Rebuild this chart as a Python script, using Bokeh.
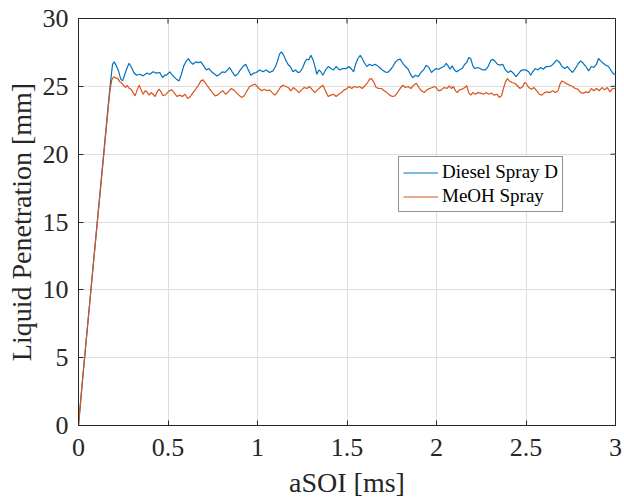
import math
from bokeh.plotting import figure
from bokeh.models import Range1d, FixedTicker, Legend, LegendItem
from bokeh.embed import file_html
from bokeh.resources import INLINE

# ---- data ----
series_names = ["Diesel Spray D", "MeOH Spray"]
x_ticks = [0, 0.5, 1, 1.5, 2, 2.5, 3]
x_tick_labels = ["0", "0.5", "1", "1.5", "2", "2.5", "3"]
y_ticks = [0, 5, 10, 15, 20, 25, 30]
y_tick_labels = ["0", "5", "10", "15", "20", "25", "30"]

t_diesel = [0.0, 0.02, 0.08, 0.166, 0.178, 0.190, 0.199, 0.212, 0.225, 0.236, 0.246, 0.259, 0.272, 0.283,
            0.296, 0.309, 0.324, 0.342, 0.361, 0.380, 0.398, 0.417, 0.435, 0.454, 0.469, 0.482,
            0.491, 0.510, 0.528, 0.547, 0.562, 0.575, 0.588, 0.603, 0.614, 0.625, 0.640, 0.655, 0.670,
            0.684, 0.699, 0.714, 0.729, 0.744, 0.761, 0.774, 0.789, 0.803, 0.818, 0.833, 0.844, 0.859,
            0.874, 0.889, 0.904, 0.919, 0.934, 0.949, 0.963, 0.978,
            0.993, 1.012, 1.030, 1.049, 1.067, 1.086, 1.101, 1.112, 1.123, 1.134, 1.146, 1.157, 1.170,
            1.183, 1.198, 1.212, 1.226, 1.239, 1.253, 1.265, 1.276, 1.287, 1.298, 1.309, 1.320, 1.332,
            1.343, 1.354, 1.365, 1.380, 1.395, 1.410, 1.425, 1.439, 1.458, 1.477,
            1.496, 1.511, 1.526, 1.537, 1.548, 1.561, 1.574, 1.585, 1.598, 1.611, 1.626, 1.641, 1.656,
            1.671, 1.682, 1.697, 1.712, 1.727, 1.742, 1.756, 1.771, 1.784, 1.797, 1.812, 1.827, 1.842,
            1.857, 1.868, 1.883, 1.898, 1.913, 1.928, 1.942, 1.957, 1.972, 1.987,
            1.998, 2.013, 2.028, 2.043, 2.054, 2.065, 2.076, 2.087, 2.100, 2.113, 2.128, 2.143, 2.158,
            2.169, 2.180, 2.191, 2.203, 2.214, 2.229, 2.244, 2.258, 2.273, 2.288, 2.303, 2.314, 2.325,
            2.340, 2.355, 2.370, 2.385, 2.400, 2.415, 2.430, 2.444, 2.456, 2.470, 2.485,
            2.500, 2.515, 2.526, 2.537, 2.552, 2.567, 2.582, 2.597, 2.612, 2.626, 2.641, 2.656, 2.671,
            2.686, 2.701, 2.716, 2.731, 2.746, 2.760, 2.775, 2.790, 2.805, 2.820, 2.835, 2.850, 2.865,
            2.879, 2.894, 2.905, 2.917, 2.932, 2.946, 2.961, 2.976, 2.991, 3.0]
l_diesel = [0.0, 3.0, 11.5, 23.6, 25.2, 26.6, 26.8, 26.51, 26.07, 25.53, 25.40, 25.89, 26.39, 26.70,
            26.39, 26.02, 25.82, 25.89, 25.77, 25.97, 25.89, 26.07, 25.97, 26.02, 25.65, 25.82,
            25.82, 26.07, 25.77, 25.53, 25.40, 25.89, 26.51, 26.88, 27.05, 26.80, 26.63, 26.80, 26.75,
            26.80, 26.51, 26.21, 26.31, 26.07, 25.89, 25.77, 25.89, 26.07, 26.02, 26.21, 26.39, 26.07,
            25.77, 25.89, 26.21, 26.46, 26.63, 26.21, 25.82, 25.97,
            26.02, 26.21, 26.07, 26.21, 26.02, 26.14, 26.46, 26.88, 27.37, 27.54, 27.29, 26.95, 26.63,
            26.46, 26.07, 26.21, 26.02, 26.07, 26.39, 26.80, 27.00, 26.95, 27.29, 27.00, 26.51, 25.89,
            26.21, 26.07, 25.82, 26.21, 26.46, 26.31, 26.21, 26.46, 26.21, 26.31,
            26.31, 26.46, 26.26, 26.07, 26.63, 27.05, 27.29, 27.05, 26.70, 26.46, 26.63, 26.51, 26.63,
            26.51, 26.39, 26.21, 26.07, 26.02, 26.21, 26.46, 26.80, 26.95, 27.00, 26.70, 26.46, 26.26,
            25.82, 25.65, 25.82, 25.72, 26.02, 26.21, 26.56, 26.39, 26.02, 26.21,
            26.31, 26.26, 26.39, 26.46, 26.70, 26.51, 26.26, 26.51, 26.21, 26.07, 26.21, 26.31, 26.63,
            26.75, 27.12, 27.05, 26.51, 26.31, 26.39, 26.31, 26.21, 26.21, 26.46, 26.88, 27.00, 26.88,
            26.63, 26.56, 26.63, 26.21, 26.02, 26.14, 25.97, 25.72, 25.89, 26.14, 26.21,
            26.21, 26.07, 25.82, 26.07, 26.31, 26.21, 26.39, 26.26, 26.46, 26.46, 26.51, 26.70, 26.95,
            26.80, 26.46, 26.31, 26.46, 26.21, 26.02, 26.31, 26.63, 26.88, 26.70, 26.46, 26.14, 26.46,
            26.39, 26.63, 27.05, 26.88, 26.70, 26.56, 26.46, 26.14, 25.89, 25.89]

t_meoh = [0.0, 0.02, 0.08, 0.166, 0.175, 0.186, 0.197, 0.208, 0.220, 0.231, 0.242, 0.253, 0.264, 0.272,
          0.283, 0.294, 0.305, 0.316, 0.328, 0.339, 0.350, 0.361, 0.372, 0.383, 0.395, 0.406, 0.417,
          0.428, 0.439, 0.450, 0.461, 0.473, 0.488,
          0.506, 0.521, 0.536, 0.551, 0.565, 0.580, 0.595, 0.610, 0.625, 0.640, 0.655, 0.670, 0.684,
          0.696, 0.707, 0.718, 0.733, 0.748, 0.763, 0.777, 0.792, 0.807, 0.822, 0.837, 0.852, 0.867,
          0.882, 0.896, 0.911, 0.926, 0.941, 0.956, 0.971, 0.986,
          1.008, 1.023, 1.038, 1.053, 1.067, 1.082, 1.097, 1.112, 1.127, 1.142, 1.157, 1.172, 1.186,
          1.201, 1.216, 1.231, 1.246, 1.261, 1.276, 1.291, 1.306, 1.320, 1.335, 1.350, 1.365, 1.380,
          1.395, 1.410, 1.425, 1.439, 1.454, 1.469, 1.484,
          1.496, 1.511, 1.526, 1.541, 1.556, 1.570, 1.585, 1.600, 1.615, 1.626, 1.637, 1.649, 1.663,
          1.678, 1.693, 1.708, 1.723, 1.738, 1.753, 1.768, 1.782, 1.797, 1.812, 1.827, 1.842, 1.857,
          1.872, 1.887, 1.902, 1.916, 1.931, 1.946, 1.961, 1.976, 1.991,
          2.013, 2.028, 2.043, 2.058, 2.072, 2.084, 2.095, 2.106, 2.117, 2.128, 2.143, 2.158, 2.169,
          2.180, 2.191, 2.203, 2.217, 2.232, 2.247, 2.262, 2.277, 2.292, 2.307, 2.322, 2.337, 2.351,
          2.363, 2.374, 2.385, 2.396, 2.407, 2.422, 2.437, 2.452, 2.467, 2.482, 2.493,
          2.500, 2.515, 2.530, 2.545, 2.560, 2.574, 2.589, 2.604, 2.619, 2.634, 2.649, 2.664, 2.679,
          2.690, 2.701, 2.716, 2.731, 2.746, 2.760, 2.775, 2.790, 2.805, 2.820, 2.835, 2.850, 2.865,
          2.879, 2.894, 2.909, 2.924, 2.939, 2.954, 2.969, 2.984, 3.0]
l_meoh = [0.0, 3.0, 11.5, 23.4, 24.6, 25.5, 25.70, 25.62, 25.57, 25.33, 25.23, 25.04, 24.91, 25.08,
          24.84, 24.79, 24.54, 24.30, 24.74, 25.08, 24.74, 24.42, 24.67, 24.59, 24.35, 24.54, 24.42,
          24.25, 24.59, 24.79, 24.59, 24.30, 24.40,
          24.67, 24.74, 24.50, 24.25, 24.35, 24.25, 24.42, 24.10, 24.25, 24.54, 24.79, 25.08, 25.40,
          25.48, 25.28, 25.08, 24.79, 24.54, 24.30, 24.35, 24.54, 24.67, 24.42, 24.59, 24.84, 24.74,
          24.54, 24.35, 24.18, 24.30, 24.67, 24.99, 25.08, 25.16,
          24.84, 24.67, 24.79, 24.67, 24.74, 24.54, 24.35, 24.59, 24.91, 25.08, 24.99, 24.91, 24.67,
          24.91, 24.74, 24.54, 24.74, 24.91, 24.84, 24.99, 24.74, 24.54, 24.74, 24.91, 25.08, 24.67,
          24.25, 24.35, 24.42, 24.25, 24.42, 24.54, 24.74,
          24.79, 24.99, 24.84, 24.99, 24.91, 24.99, 24.84, 25.04, 25.28, 25.53, 25.57, 25.33, 24.91,
          24.84, 24.84, 24.67, 24.54, 24.35, 24.25, 24.30, 24.54, 24.84, 25.08, 24.91, 24.99, 24.84,
          25.08, 25.23, 24.91, 24.67, 24.54, 24.74, 24.84, 24.91, 24.99,
          24.67, 24.74, 24.91, 24.84, 25.04, 24.84, 24.99, 24.67, 24.54, 24.74, 24.79, 24.91, 25.04,
          24.54, 24.35, 24.54, 24.42, 24.54, 24.50, 24.42, 24.54, 24.42, 24.50, 24.35, 24.42, 24.18,
          24.30, 24.84, 25.33, 25.57, 25.40, 25.28, 25.23, 25.04, 24.84, 24.99, 25.28,
          25.23, 24.91, 24.79, 24.91, 24.67, 24.42, 24.35, 24.54, 24.59, 24.54, 24.67, 24.54, 24.67,
          25.16, 25.40, 25.28, 25.16, 25.08, 24.99, 24.84, 24.79, 24.54, 24.50, 24.59, 24.54, 24.84,
          24.67, 24.84, 24.67, 24.91, 24.74, 24.91, 24.59, 24.84, 24.84]

# ---- styling ----
FONT = "Liberation Serif"
INK = "#262626"
BLUE = "#0072BD"
RED = "#D95319"
X_MIN, X_MAX = 0, 3
Y_MIN, Y_MAX = 0, 30

p = figure(width=624, height=502, output_backend="svg", toolbar_location=None,
           x_range=Range1d(X_MIN, X_MAX), y_range=Range1d(Y_MIN, Y_MAX))
p.min_border_left = 78
p.min_border_right = 9
p.min_border_top = 18
p.min_border_bottom = 77
p.background_fill_color = "white"
p.border_fill_color = "white"
p.outline_line_color = INK
p.outline_line_width = 1

p.xgrid.ticker = FixedTicker(ticks=x_ticks)
p.ygrid.ticker = FixedTicker(ticks=y_ticks)
p.grid.grid_line_color = "#DEDEDE"
p.grid.grid_line_width = 1

r1 = p.line(t_diesel, l_diesel, line_color=BLUE, line_width=1.2)
r2 = p.line(t_meoh, l_meoh, line_color=RED, line_width=1.2)

# mirrored (box) ticks on the top and right edges, drawn as short screen-length rays
p.ray(x=x_ticks, y=[Y_MAX] * len(x_ticks), length=5, length_units="screen",
      angle=-math.pi / 2, line_color=INK, line_width=1)
p.ray(x=[X_MAX] * len(y_ticks), y=y_ticks, length=5, length_units="screen",
      angle=math.pi, line_color=INK, line_width=1)

# main axes
xa = p.xaxis[0]
xa.ticker = FixedTicker(ticks=x_ticks)
xa.major_label_overrides = {t: s for t, s in zip(x_ticks, x_tick_labels)}
ya = p.yaxis[0]
ya.ticker = FixedTicker(ticks=y_ticks)
ya.major_label_overrides = {t: s for t, s in zip(y_ticks, y_tick_labels)}

for ax in (xa, ya):
    ax.axis_line_color = INK
    ax.major_tick_line_color = INK
    ax.minor_tick_line_color = None
    ax.major_label_text_font = FONT
    ax.major_label_text_font_size = "26px"
    ax.major_label_text_color = INK
    ax.axis_label_text_font = FONT
    ax.axis_label_text_font_size = "28px"
    ax.axis_label_text_font_style = "normal"
    ax.axis_label_text_color = INK

xa.major_tick_in = 5
xa.major_tick_out = 0
xa.major_label_standoff = 13
xa.axis_label = "aSOI [ms]"
xa.axis_label_standoff = 8

ya.major_tick_in = 5
ya.major_tick_out = 0
ya.major_label_standoff = 10
ya.axis_label = "Liquid Penetration [mm]"
ya.axis_label_standoff = 3

legend = Legend(items=[LegendItem(label=series_names[0], renderers=[r1]),
                       LegendItem(label=series_names[1], renderers=[r2])],
                location=(320, 213))
legend.margin = 0
legend.padding = 4
legend.spacing = 2
legend.glyph_width = 35
legend.glyph_height = 21
legend.label_height = 21
legend.label_standoff = 4
legend.label_text_font = FONT
legend.label_text_font_size = "19px"
legend.label_text_color = "black"
legend.border_line_color = INK
legend.border_line_width = 1
legend.background_fill_color = "white"
legend.background_fill_alpha = 1.0
p.add_layout(legend)

open("out.html", "w").write(file_html(p, INLINE))
